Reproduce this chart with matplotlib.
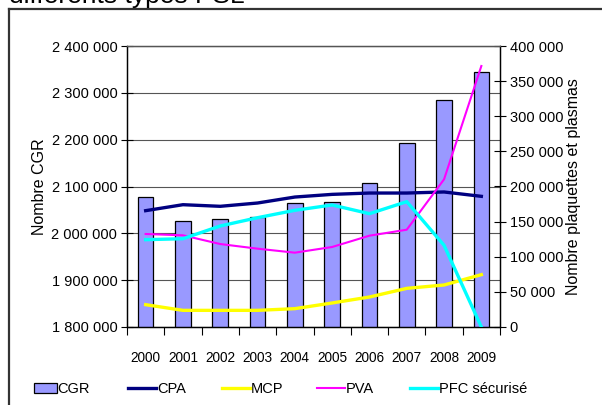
import matplotlib
matplotlib.use("Agg")
import matplotlib.pyplot as plt
from matplotlib.lines import Line2D
from matplotlib.patches import Patch
from matplotlib.ticker import FuncFormatter
import numpy as np

plt.rcParams['font.family'] = ['Liberation Sans', 'DejaVu Sans']

# data
years = ['2000', '2001', '2002', '2003', '2004', '2005', '2006', '2007', '2008', '2009']
cgr = [2077000, 2027000, 2030000, 2034000, 2064000, 2067000, 2107000, 2193000, 2285000, 2344000]
cpa = [165600, 174100, 171800, 176500, 185000, 188800, 190700, 190700, 192200, 186000]
mcp = [31800, 23700, 23700, 23700, 26100, 34200, 42700, 55000, 59800, 74500]
pva = [132400, 130500, 118100, 111500, 105800, 113900, 130000, 138500, 210200, 371500]
pfc = [124300, 125700, 143800, 155600, 166100, 173700, 161300, 178400, 116300, 0]

W, H = 602, 405
fig = plt.figure(figsize=(W / 100, H / 100), dpi=100)

# outer frame of the original sheet
fig.add_artist(plt.Line2D([9 / W, 9 / W], [0, 1 - 9 / H], color='#333333', lw=1.6,
                          transform=fig.transFigure))
fig.add_artist(plt.Line2D([9 / W, 1], [1 - 9 / H, 1 - 9 / H], color='#333333', lw=1.6,
                          transform=fig.transFigure))

# title cut off at the top
fig.text(9 / W, 1 - 3 / H, 'différents types PSL', fontsize=19, va='baseline', ha='left')

ax = fig.add_axes([127 / W, 1 - 327 / H, (500 - 127) / W, (327 - 46) / H])
ax2 = ax.twinx()

fmt = FuncFormatter(lambda v, p: f"{int(v):,}".replace(',', ' '))

x = np.arange(len(years))
ax.bar(x, cgr, width=0.42, color='#9999FF', edgecolor='black', linewidth=0.9, zorder=2)
ax.set_ylim(1800000, 2400000)
ax.set_yticks(np.arange(1800000, 2400001, 100000))
ax.yaxis.set_major_formatter(fmt)
ax.grid(axis='y', color='#555555', lw=0.8, zorder=0)
ax.set_axisbelow(True)
ax.set_xlim(-0.5, len(years) - 0.5)
ax.set_xticks(x)
ax.set_xticklabels(years)
ax.set_xticks(np.arange(-0.5, len(years)), minor=True)
ax.tick_params(axis='x', which='major', length=0, pad=17, labelsize=9.8)
ax.tick_params(axis='x', which='minor', length=6, width=0.8, direction='out')
ax.tick_params(axis='y', length=8, width=0.8, direction='inout', labelsize=10.5, pad=3)
ax.set_ylabel('Nombre CGR', fontsize=11.5, labelpad=3)

ax2.plot(x, cpa, color='#000080', lw=2.4, zorder=3)
ax2.plot(x, mcp, color='#FFFF00', lw=2.4, zorder=3)
ax2.plot(x, pva, color='#FF00FF', lw=1.5, zorder=3)
ax2.plot(x, pfc, color='#00FFFF', lw=2.4, zorder=3)
ax2.set_ylim(0, 400000)
ax2.set_yticks(np.arange(0, 400001, 50000))
ax2.yaxis.set_major_formatter(fmt)
ax2.tick_params(axis='y', length=8, width=0.8, direction='inout', labelsize=10.5, pad=3)
ax2.set_ylabel('Nombre plaquettes et plasmas', fontsize=11.5, labelpad=2)

for a in (ax, ax2):
    for s in a.spines.values():
        s.set_linewidth(0.9)
    a.spines['top'].set_color('#555555')

# legend entries spread along the bottom
handles = [
    Patch(facecolor='#9999FF', edgecolor='black', linewidth=0.9),
    Line2D([], [], color='#000080', lw=2.4),
    Line2D([], [], color='#FFFF00', lw=2.4),
    Line2D([], [], color='#FF00FF', lw=1.5),
    Line2D([], [], color='#00FFFF', lw=2.4),
]
names = ['CGR', 'CPA', 'MCP', 'PVA', 'PFC sécurisé']
starts = [34, 128, 222, 317, 410]
lengths = [1.55, 1.95, 1.95, 1.95, 1.95]
for h, n, sx, hl in zip(handles, names, starts, lengths):
    fig.legend(handles=[h], labels=[n], loc='center left',
               bbox_to_anchor=(sx / W, 1 - 389 / H), frameon=False, fontsize=10.5,
               handlelength=hl, handletextpad=0.05, borderpad=0, borderaxespad=0,
               handleheight=0.65)

fig.savefig('out.png', dpi=100)
